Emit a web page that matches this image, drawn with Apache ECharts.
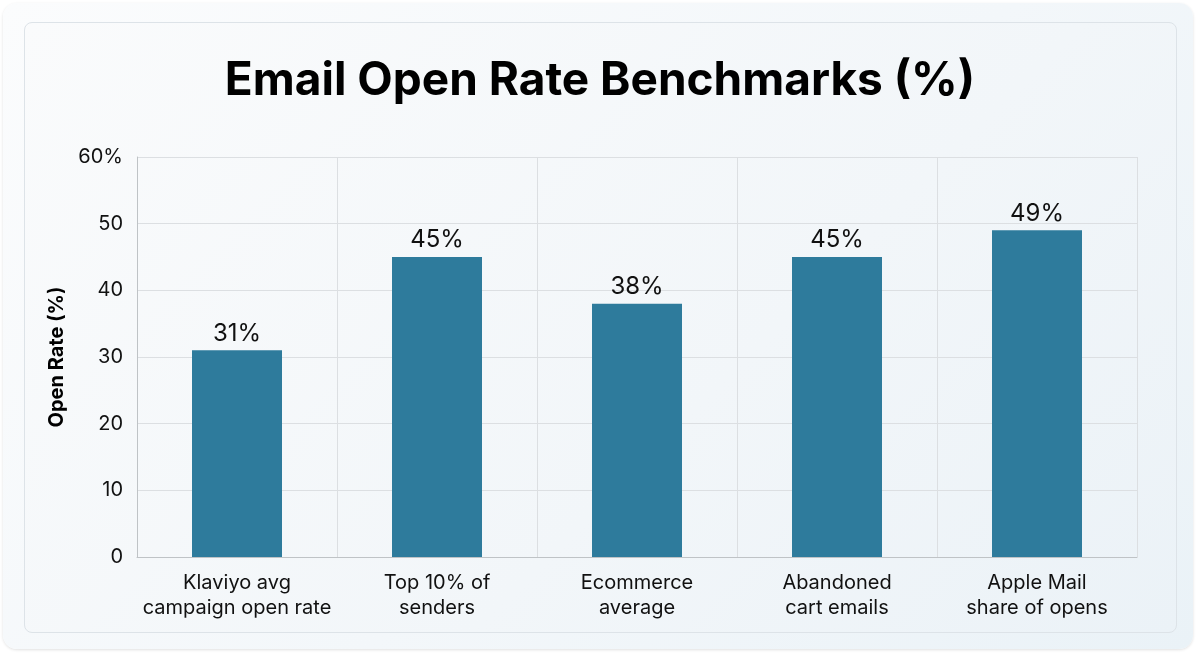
<!DOCTYPE html>
<html>
<head>
<meta charset="utf-8">
<script src="https://cdn.jsdelivr.net/npm/echarts@6/dist/echarts.min.js"></script>
<style>
  html, body { margin: 0; padding: 0; width: 1200px; height: 654px; overflow: hidden; }
  body { background: #ffffff; font-family: Inter, "Noto Sans", sans-serif; }
  .outer {
    position: absolute; left: 3px; top: 3px; width: 1190px; height: 646px;
    border-radius: 14px;
    background: linear-gradient(135deg, #fbfcfd 0%, #f3f7fa 55%, #eaf2f7 100%);
    box-shadow: 0 1px 3px rgba(0,0,0,0.12);
  }
  .inner {
    position: absolute; left: 24px; top: 22px; width: 1151px; height: 609px;
    border-radius: 8px; border: 1px solid #dde3e8;
    background: linear-gradient(135deg, #fafbfc 0%, #f2f6f9 60%, #ebf2f7 100%);
  }
  #chart { position: absolute; left: 0; top: 0; width: 1200px; height: 654px; }
</style>
</head>
<body>
<div class="outer"></div>
<div class="inner"></div>
<div id="chart"></div>
<script>
var categories = [
  'Klaviyo avg\ncampaign open rate',
  'Top 10% of\nsenders',
  'Ecommerce\naverage',
  'Abandoned\ncart emails',
  'Apple Mail\nshare of opens'
];
var openRates = [31, 45, 38, 45, 49];

var chart = echarts.init(document.getElementById('chart'));
var option = {
  backgroundColor: 'transparent',
  title: {
    text: 'Email Open Rate Benchmarks (%)',
    left: 'center',
    top: 53,
    textStyle: {
      fontFamily: 'Inter',
      fontSize: 46,
      fontWeight: 'bold',
      color: '#000000'
    }
  },
  grid: {
    left: 137,
    right: 63,
    top: 157,
    bottom: 97
  },
  xAxis: {
    type: 'category',
    data: categories,
    axisLine: { show: true, lineStyle: { color: '#bfc3c6', width: 1 } },
    axisTick: { show: false },
    splitLine: { show: true, lineStyle: { color: '#dcdfe2', width: 1 } },
    axisLabel: {
      interval: 0,
      margin: 13,
      fontFamily: 'Inter',
      fontSize: 20,
      lineHeight: 25,
      color: '#111111'
    }
  },
  yAxis: {
    type: 'value',
    min: 0,
    max: 60,
    interval: 10,
    name: 'Open Rate (%)',
    nameLocation: 'middle',
    nameGap: 70,
    nameTextStyle: {
      fontFamily: 'Inter',
      fontSize: 20,
      fontWeight: 'bold',
      color: '#000000'
    },
    axisLine: { show: true, lineStyle: { color: '#bfc3c6', width: 1 } },
    axisTick: { show: false },
    splitLine: { show: true, lineStyle: { color: '#dcdfe2', width: 1 } },
    axisLabel: {
      margin: 14,
      fontFamily: 'Inter',
      fontSize: 20,
      color: '#111111',
      formatter: function (v) { return v === 60 ? v + '%' : String(v); }
    }
  },
  series: [{
    type: 'bar',
    data: openRates,
    barWidth: '45%',
    itemStyle: { color: '#2e7b9c' },
    label: {
      show: true,
      position: 'top',
      distance: 5,
      fontFamily: 'Inter',
      fontSize: 24,
      color: '#111111',
      formatter: '{c}%'
    }
  }]
};
chart.setOption(option);
</script>
</body>
</html>
